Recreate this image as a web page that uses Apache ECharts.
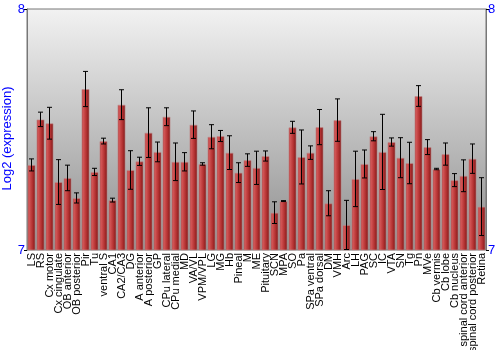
<!DOCTYPE html>
<html>
<head>
<meta charset="utf-8">
<script src="https://cdn.jsdelivr.net/npm/echarts@6/dist/echarts.min.js"></script>
<style>html,body{margin:0;padding:0;background:#fff;}#c{width:500px;height:350px;}</style>
</head>
<body>
<div id="c"></div>
<script>
const categories = ["LS","RS","Cx motor","Cx cingulate","OB anterior","OB posterior","Pir","Tu","ventral S","CA1","CA2/CA3","DG","A anterior","A posterior","GP","CPu lateral","CPu medial","MD","VA/VL","VPM/VPL","LG","MG","Hb","Pineal","M","ME","Pituitary","SCN","MPA","SO","Pa","SPa ventral","SPa dorsal","DM","VMH","Arc","LH","PAG","SC","IC","VTA","SN","Tg","Pn","MVe","Cb vermis","Cb lobe","Cb nucleus","spinal cord anterior","spinal cord posterior","Retina"];
const values = [7.353,7.542,7.526,7.282,7.299,7.216,7.668,7.324,7.452,7.207,7.603,7.332,7.368,7.487,7.407,7.553,7.366,7.366,7.520,7.357,7.470,7.473,7.404,7.321,7.373,7.341,7.390,7.155,7.203,7.509,7.386,7.404,7.510,7.194,7.539,7.104,7.295,7.357,7.472,7.407,7.448,7.383,7.361,7.639,7.427,7.336,7.398,7.290,7.308,7.379,7.180];
const errors = [0.025,0.030,0.066,0.093,0.053,0.021,0.073,0.015,0.012,0.008,0.062,0.080,0.017,0.103,0.041,0.037,0.078,0.038,0.057,0.005,0.050,0.023,0.070,0.041,0.026,0.069,0.021,0.045,0.002,0.025,0.112,0.028,0.073,0.052,0.088,0.102,0.115,0.058,0.019,0.156,0.017,0.083,0.086,0.043,0.031,0.003,0.046,0.027,0.066,0.061,0.120];
const yTicks = [7, 8];

const chart = echarts.init(document.getElementById('c'), null, {renderer: 'canvas'});
const errData = values.map((v, i) => [i, v - errors[i], v + errors[i]]);
const blue = '#0000ff';
const yAxisCommon = {
  type: 'value', min: yTicks[0], max: yTicks[yTicks.length - 1], interval: 1,
  axisLine: {show: true, lineStyle: {color: '#777'}},
  axisTick: {show: true, length: 3, lineStyle: {color: '#000'}},
  splitLine: {show: false},
  axisLabel: {color: blue, fontSize: 13, fontFamily: 'Liberation Sans', margin: 2}
};
chart.setOption({
  animation: false,
  textStyle: {fontFamily: 'Liberation Sans'},
  grid: {
    left: 27, right: 14, top: 9, bottom: 100,
    containLabel: false, outerBoundsMode: 'none',
    show: true, borderColor: '#777', borderWidth: 1,
    backgroundColor: {type: 'linear', x: 0, y: 0, x2: 0, y2: 1,
      colorStops: [{offset: 0, color: '#f2f2f2'}, {offset: 1, color: '#8e8e8e'}]}
  },
  xAxis: {
    type: 'category', data: categories,
    axisLine: {show: false}, axisTick: {show: false},
    axisLabel: {interval: 0, rotate: 90, fontSize: 11, color: '#000', margin: 3, fontFamily: 'Liberation Sans'}
  },
  yAxis: [
    Object.assign({}, yAxisCommon, {position: 'left', name: 'Log2 (expression)', nameLocation: 'middle', nameGap: 13,
      nameMoveOverlap: false,
      nameTextStyle: {color: blue, fontSize: 13, fontFamily: 'Liberation Sans', padding: [0, 18, 0, 0]}}),
    Object.assign({}, yAxisCommon, {position: 'right'})
  ],
  series: [
    {
      type: 'bar', data: values, barWidth: '90%',
      itemStyle: {
        color: {type: 'linear', x: 0, y: 0, x2: 1, y2: 0, colorStops: [
          {offset: 0, color: '#b43838'}, {offset: 0.25, color: '#d05252'},
          {offset: 0.6, color: '#b43232'}, {offset: 1, color: '#7a1616'}]},
        borderColor: 'rgba(190,140,140,0.6)', borderWidth: 1
      }
    },
    {
      type: 'custom', data: errData, z: 5,
      renderItem: function (params, api) {
        const x = api.coord([api.value(0), api.value(1)])[0];
        const lo = api.coord([api.value(0), api.value(1)])[1];
        const hi = api.coord([api.value(0), api.value(2)])[1];
        const hw = 2.5;
        const style = {stroke: '#000', lineWidth: 1};
        return {type: 'group', children: [
          {type: 'line', shape: {x1: x, y1: lo, x2: x, y2: hi}, style: style},
          {type: 'line', shape: {x1: x - hw, y1: lo, x2: x + hw, y2: lo}, style: style},
          {type: 'line', shape: {x1: x - hw, y1: hi, x2: x + hw, y2: hi}, style: style}
        ]};
      }
    }
  ]
});
</script>
</body>
</html>
